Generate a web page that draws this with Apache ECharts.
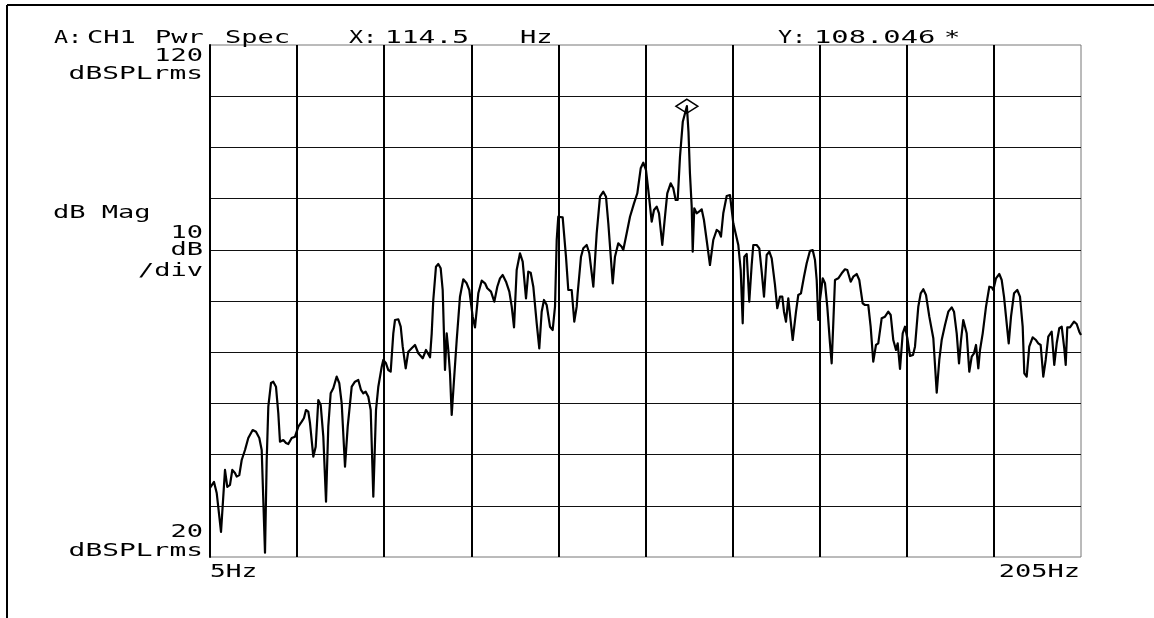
<!DOCTYPE html>
<html><head><meta charset="utf-8">
<script src="https://cdn.jsdelivr.net/npm/echarts@6/dist/echarts.min.js"></script>
<style>html,body{margin:0;padding:0;background:#fff}#c{width:1154px;height:618px}</style>
</head><body><div id="c"></div><script>
// Spectrum trace (Hz, dBSPLrms)
const freqHz = [5.0,5.92,6.54,7.53,8.44,8.97,9.59,10.12,10.74,11.13,11.73,12.28,13.04,13.79,14.8,15.56,16.32,16.87,17.63,18.02,18.39,19.01,19.53,20.15,20.68,21.07,21.83,22.45,22.98,23.76,24.52,25.28,26.06,26.58,27.04,27.57,27.96,28.72,29.27,29.87,30.42,31.02,31.64,32.16,32.71,33.31,34.09,34.69,35.24,36.0,36.62,37.54,38.29,39.05,39.67,40.2,40.75,41.35,41.9,42.5,43.12,43.65,44.43,44.79,45.41,45.94,46.49,47.09,47.48,48.24,48.79,49.25,49.94,50.53,51.31,52.07,52.83,53.84,54.6,54.99,55.52,55.91,56.27,56.89,57.42,57.97,58.43,58.96,59.35,59.72,60.11,60.5,61.03,61.65,62.4,63.16,63.94,64.54,65.32,65.85,66.61,67.39,68.15,68.67,69.52,70.28,70.97,71.59,72.21,72.97,73.73,74.28,74.81,75.42,76.18,76.8,77.56,78.09,78.64,79.24,80.02,80.61,81.16,81.69,82.31,83.07,83.69,84.22,84.61,84.97,85.98,86.74,87.27,88.05,88.65,89.2,89.41,90.19,90.72,91.5,92.1,93.02,93.79,94.55,95.31,95.93,96.46,97.47,97.99,98.75,99.53,99.9,100.68,101.44,102.36,103.12,103.9,104.49,105.11,105.64,106.42,106.95,107.57,108.1,108.85,109.47,110.0,110.78,111.38,111.93,112.39,112.92,113.56,114.5,114.87,115.2,115.61,115.84,116.2,116.75,117.27,117.9,118.42,119.04,119.8,120.56,121.34,121.87,122.33,122.86,123.64,124.4,125.16,126.31,126.86,127.32,127.69,128.24,128.83,129.38,129.75,130.53,131.13,131.68,132.21,132.83,133.43,133.98,134.73,135.26,135.88,136.41,136.8,137.26,137.79,138.18,138.8,139.56,140.08,140.7,141.39,142.01,142.77,143.39,143.92,144.31,144.68,145.07,145.69,146.22,146.74,147.36,147.75,148.12,148.51,149.27,150.05,150.81,151.34,152.12,152.71,153.49,154.09,154.87,155.4,156.15,156.7,157.3,157.92,158.45,159.23,159.99,160.75,161.3,161.9,162.52,162.91,163.44,164.06,164.59,165.12,165.74,166.42,166.88,167.64,168.19,168.79,169.41,170.17,171.09,171.87,172.46,173.01,173.77,174.53,175.31,175.84,176.46,176.99,177.45,177.97,178.36,178.75,179.35,179.9,180.43,180.89,181.42,181.81,182.43,183.19,183.95,184.49,184.86,185.48,186.24,186.79,187.32,187.78,188.4,188.93,189.62,190.37,190.99,191.61,191.98,192.53,193.12,193.9,194.66,195.19,195.74,196.34,196.89,197.49,198.27,198.86,199.42,200.01,200.57,201.16,201.49,201.85,202.47,202.86,203.39,204.01,204.6,205.0];
const levelDb = [33.5,34.65,32.5,24.9,37.0,33.7,34.1,37.0,36.4,35.7,36.0,38.95,40.9,43.24,44.8,44.47,43.24,40.9,20.84,38.95,49.36,54.0,54.24,53.26,48.13,42.52,42.85,42.27,42.07,43.24,43.5,45.45,46.43,47.15,48.71,48.38,46.17,39.59,41.54,50.66,49.69,43.5,30.8,45.45,51.98,52.95,55.22,53.93,50.02,37.64,45.45,53.26,54.24,54.57,52.62,51.98,52.29,51.31,48.71,31.78,48.71,53.26,57.17,58.48,57.83,56.52,56.19,63.69,66.29,66.43,64.98,61.08,56.86,60.1,60.76,61.41,59.79,58.81,60.43,60.43,59.0,63.69,70.2,76.7,77.23,76.39,72.15,56.52,63.69,60.43,55.88,47.73,54.57,62.38,70.84,74.24,73.46,72.15,66.94,64.86,71.5,73.97,73.46,72.48,71.82,69.86,72.79,74.43,75.08,73.77,71.82,68.89,64.86,76.05,79.32,77.68,70.53,75.72,75.53,72.79,65.64,60.76,67.91,70.2,69.22,64.98,64.34,68.89,81.91,86.46,86.35,78.65,72.15,72.15,65.96,68.89,71.36,78.65,80.29,80.94,79.32,72.79,83.22,90.37,91.35,90.37,85.18,73.46,78.65,81.27,80.61,79.96,83.22,86.46,89.08,91.04,95.92,97.01,95.59,91.68,85.49,87.77,88.42,87.13,80.94,86.46,91.04,92.99,92.01,89.73,89.73,98.18,105.0,108.05,103.0,95.0,88.42,79.63,88.1,87.13,87.44,87.91,85.82,81.91,77.03,81.91,83.87,83.54,82.56,87.13,90.5,90.7,85.18,80.94,76.05,65.64,78.65,79.18,69.86,77.03,80.94,80.94,80.29,75.72,70.84,78.98,79.63,78.34,73.13,68.58,70.84,70.84,67.91,65.96,70.53,70.2,62.38,67.91,71.17,71.5,74.75,77.36,79.82,79.96,78.0,74.1,66.29,70.2,74.43,73.46,68.89,61.74,57.83,65.64,74.1,74.43,75.41,76.19,76.05,73.77,74.75,75.27,74.1,69.55,69.22,69.22,64.98,58.15,61.41,61.74,66.62,66.94,67.91,67.27,62.38,60.43,61.74,56.72,63.69,64.98,62.77,59.26,59.45,61.08,68.89,71.5,72.29,71.17,66.94,62.72,52.09,58.48,62.38,65.31,67.91,68.77,67.91,63.69,57.83,62.38,66.29,66.29,63.69,56.19,59.12,59.79,61.41,56.86,60.43,63.69,68.89,72.79,72.68,72.15,74.43,75.27,74.1,70.84,66.94,61.74,66.94,71.5,72.15,70.84,64.98,55.88,55.22,61.08,62.91,62.38,61.74,61.41,55.22,58.48,63.03,64.0,57.5,61.74,64.67,64.98,60.76,57.5,64.86,64.86,65.12,65.96,65.51,64.0,63.36];
const markerHz = 114.5;
const markerDb = 108.046;
const xRange = [5, 205];
const yRange = [20, 120];
const xLabels = ['5Hz', '205Hz'];
const yTopLabel = ['120', 'dBSPLrms'];
const yBottomLabel = ['20', 'dBSPLrms'];
const scaleLabel = ['10', 'dB', '/div'];
const headerWords = ['A:', 'CH1', 'Pwr', 'Spec', 'X:', String(markerHz), 'Hz', 'Y:', markerDb.toFixed(3), '*'];

const chart = echarts.init(document.getElementById('c'), null, {renderer: 'canvas'});
const FONT = '18px "DejaVu Sans Mono", monospace';
const SX = 1.5;
function txt(s, x, y, align, sx) {
  return {type: 'text', x: x, y: y, scaleX: sx || SX, silent: true,
    style: {text: s, font: FONT, fill: '#000', align: align || 'left', verticalAlign: 'middle'}};
}
const headerLeft = [54, 87, 155, 225, 349, 385, 520, 778, 814, 944];
const headerScale = [1.3, 1.5, 1.5, 1.5, 1.3, 1.55, 1.5, 1.3, 1.6, 1.5];
const graphics = [
  {type: 'line', shape: {x1: 7, y1: 5, x2: 1154, y2: 5}, style: {stroke: '#000', lineWidth: 2}},
  {type: 'line', shape: {x1: 7, y1: 5, x2: 7, y2: 618}, style: {stroke: '#000', lineWidth: 2}}
];
headerWords.forEach((w, i) => graphics.push(txt(w, headerLeft[i], 38, 'left', headerScale[i])));
graphics.push(txt(yTopLabel[0], 203, 56, 'right'));
graphics.push(txt(yTopLabel[1], 203, 74, 'right', 1.55));
graphics.push(txt('dB Mag', 53, 213, 'left'));
graphics.push(txt(scaleLabel[0], 203, 233, 'right'));
graphics.push(txt(scaleLabel[1], 203, 250, 'right'));
graphics.push(txt(scaleLabel[2], 203, 271, 'right'));
graphics.push(txt(yBottomLabel[0], 203, 532, 'right'));
graphics.push(txt(yBottomLabel[1], 203, 551, 'right', 1.55));
graphics.push(txt(xLabels[0], 210, 572, 'left', 1.45));
graphics.push(txt(xLabels[1], 1080, 572, 'right', 1.5));

chart.setOption({
  animation: false,
  backgroundColor: '#fff',
  grid: {left: 210, top: 45, width: 871, height: 512, show: true, borderColor: '#777', borderWidth: 1},
  xAxis: {type: 'value', min: xRange[0], max: xRange[1], interval: 20,
    axisLine: {show: false}, axisTick: {show: false}, axisLabel: {show: false},
    splitLine: {show: true, showMinLine: false, showMaxLine: false, lineStyle: {color: '#000', width: 2}}},
  yAxis: {type: 'value', min: yRange[0], max: yRange[1], interval: 10,
    axisLine: {show: true, lineStyle: {color: '#000', width: 2}}, axisTick: {show: false}, axisLabel: {show: false},
    splitLine: {show: true, showMinLine: false, showMaxLine: false, lineStyle: {color: '#111', width: 1.2}}},
  series: [{
    type: 'line', data: freqHz.map((f, i) => [f, levelDb[i]]),
    showSymbol: false, symbol: 'none', lineStyle: {color: '#000', width: 2.2, join: 'round'}, z: 5,
    markPoint: {
      symbol: 'diamond', symbolSize: [22, 14], silent: true,
      itemStyle: {color: 'rgba(0,0,0,0)', borderColor: '#000', borderWidth: 1.5},
      label: {show: false},
      data: [{coord: [markerHz, markerDb]}]
    }
  }],
  graphic: graphics
});
</script></body></html>
